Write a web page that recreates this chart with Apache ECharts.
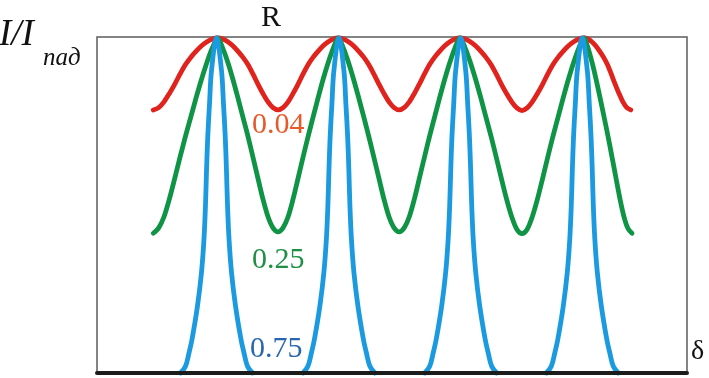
<!DOCTYPE html>
<html>
<head>
<meta charset="utf-8">
<script src="https://cdn.jsdelivr.net/npm/echarts@6/dist/echarts.min.js"></script>
<style>
  html, body { margin: 0; padding: 0; background: #fff; }
  #main { width: 709px; height: 378px; }
</style>
</head>
<body>
<div id="main"></div>
<script>
// delta in arbitrary units (0..590 across the frame), intensity I/I_pad (0..1)

// R = 0.25
const greenX = [
  56.3, 61.7, 67.0, 72.4, 77.8, 83.1, 88.5, 93.9, 99.2, 104.6, 110.0, 115.3, 120.7,
  125.7, 130.8, 135.8, 140.8, 145.8, 150.9, 155.9, 160.9, 165.9, 171.0, 176.0, 181.0,
  186.0, 191.1, 196.1, 201.1, 206.1, 211.2, 216.2, 221.2, 226.2, 231.3, 236.3, 241.3,
  246.4, 251.4, 256.5, 261.6, 266.7, 271.7, 276.8, 281.9, 286.9, 292.0, 297.1, 302.2,
  307.2, 312.3, 317.4, 322.4, 327.5, 332.6, 337.7, 342.7, 347.8, 352.9, 357.9, 363.0,
  368.2, 373.3, 378.5, 383.7, 388.8, 394.0, 399.2, 404.3, 409.5, 414.7, 419.8, 425.0,
  430.2, 435.3, 440.5, 445.7, 450.8, 456.0, 461.2, 466.3, 471.5, 476.7, 481.8, 487.0,
  491.0, 495.0, 499.0, 503.0, 507.0, 511.0, 515.0, 519.0, 523.0, 527.0, 531.0, 535.0];
const greenY = [
  0.416, 0.432, 0.465, 0.518, 0.580, 0.643, 0.705, 0.763, 0.820, 0.875, 0.925, 0.967, 0.997,
  0.967, 0.925, 0.875, 0.820, 0.763, 0.705, 0.643, 0.580, 0.518, 0.465, 0.432, 0.420,
  0.432, 0.465, 0.518, 0.580, 0.643, 0.705, 0.763, 0.820, 0.875, 0.925, 0.967, 0.997,
  0.967, 0.925, 0.875, 0.820, 0.763, 0.705, 0.643, 0.580, 0.518, 0.465, 0.432, 0.420,
  0.432, 0.465, 0.518, 0.580, 0.643, 0.705, 0.763, 0.820, 0.875, 0.925, 0.967, 0.997,
  0.967, 0.925, 0.875, 0.820, 0.763, 0.705, 0.643, 0.580, 0.518, 0.465, 0.428, 0.415,
  0.428, 0.465, 0.518, 0.580, 0.643, 0.705, 0.763, 0.820, 0.875, 0.925, 0.967, 0.997,
  0.967, 0.925, 0.875, 0.820, 0.763, 0.705, 0.643, 0.580, 0.518, 0.465, 0.430, 0.416];

// R = 0.04
const redX = [
  56.3, 61.7, 67.0, 72.4, 77.8, 83.1, 88.5, 93.9, 99.2, 104.6, 110.0, 115.3, 120.7,
  125.7, 130.8, 135.8, 140.8, 145.8, 150.9, 155.9, 160.9, 165.9, 171.0, 176.0, 181.0,
  186.0, 191.1, 196.1, 201.1, 206.1, 211.2, 216.2, 221.2, 226.2, 231.3, 236.3, 241.3,
  246.4, 251.4, 256.5, 261.6, 266.7, 271.7, 276.8, 281.9, 286.9, 292.0, 297.1, 302.2,
  307.2, 312.3, 317.4, 322.4, 327.5, 332.6, 337.7, 342.7, 347.8, 352.9, 357.9, 363.0,
  368.2, 373.3, 378.5, 383.7, 388.8, 394.0, 399.2, 404.3, 409.5, 414.7, 419.8, 425.0,
  430.2, 435.3, 440.5, 445.7, 450.8, 456.0, 461.2, 466.3, 471.5, 476.7, 481.8, 487.0,
  490.9, 494.8, 498.7, 502.6, 506.5, 510.4, 514.2, 518.1, 522.0, 525.9, 529.8, 533.7];
const redY = [
  0.783, 0.790, 0.807, 0.832, 0.860, 0.890, 0.918, 0.940, 0.958, 0.974, 0.986, 0.994, 0.997,
  0.994, 0.986, 0.974, 0.958, 0.940, 0.918, 0.890, 0.860, 0.832, 0.807, 0.790, 0.783,
  0.790, 0.807, 0.832, 0.860, 0.890, 0.918, 0.940, 0.958, 0.974, 0.986, 0.994, 0.997,
  0.994, 0.986, 0.974, 0.958, 0.940, 0.918, 0.890, 0.860, 0.832, 0.807, 0.790, 0.783,
  0.790, 0.807, 0.832, 0.860, 0.890, 0.918, 0.940, 0.958, 0.974, 0.986, 0.994, 0.997,
  0.994, 0.986, 0.974, 0.958, 0.940, 0.918, 0.890, 0.860, 0.832, 0.807, 0.789, 0.781,
  0.789, 0.807, 0.832, 0.860, 0.890, 0.918, 0.940, 0.958, 0.974, 0.986, 0.994, 0.997,
  0.994, 0.986, 0.974, 0.958, 0.940, 0.918, 0.890, 0.860, 0.832, 0.807, 0.790, 0.783];

// R = 0.75, one array of delta positions per transmission peak
const blueX1 = [83.5, 88.5, 92.0, 95.0, 100.5, 104.5, 107.0, 108.5, 109.5, 110.7, 112.5, 114.5, 119.5,
  124.5, 126.5, 128.3, 129.5, 130.5, 132.0, 134.5, 138.5, 144.0, 147.0, 150.5, 155.5];
const blueX2 = [205.9, 210.9, 214.4, 217.4, 222.9, 226.9, 229.4, 230.9, 231.9, 233.1, 234.9, 236.9, 241.9,
  246.9, 248.9, 250.7, 251.9, 252.9, 254.4, 256.9, 260.9, 266.4, 269.4, 272.9, 277.9];
const blueX3 = [327.7, 332.7, 336.2, 339.2, 344.7, 348.7, 351.2, 352.7, 353.7, 354.9, 356.7, 358.7, 363.7,
  368.7, 370.7, 372.5, 373.7, 374.7, 376.2, 378.7, 382.7, 388.2, 391.2, 394.7, 399.7];
const blueX4 = [449.3, 454.3, 457.8, 460.8, 466.3, 470.3, 472.8, 474.3, 475.3, 476.5, 478.3, 480.3, 485.3,
  490.3, 492.3, 494.1, 495.3, 496.3, 497.8, 500.3, 504.3, 509.8, 512.8, 516.3, 521.3];
const blueY = [0, 0.02, 0.06, 0.10, 0.20, 0.30, 0.40, 0.50, 0.60, 0.70, 0.80, 0.90, 0.997,
  0.90, 0.80, 0.70, 0.60, 0.50, 0.40, 0.30, 0.20, 0.10, 0.06, 0.02, 0];

const curveLabels = ['0.04', '0.25', '0.75'];

const SERIF = '"Liberation Serif", "DejaVu Serif", serif';
const RED = '#e0231d';
const GREEN = '#0f9446';
const BLUE = '#1b9ae0';

function pairs(xs, ys) {
  return xs.map((x, i) => [x, ys[i]]);
}

const chart = echarts.init(document.getElementById('main'));

const lineSeries = (data, color, smooth) => ({
  type: 'line',
  data: data,
  symbol: 'none',
  smooth: smooth,
  clip: false,
  lineStyle: { color: color, width: 4.8, cap: 'round', join: 'round' }
});

const series = [
  lineSeries(pairs(redX, redY), RED, 0.3),
  lineSeries(pairs(greenX, greenY), GREEN, 0.3)
];
[blueX1, blueX2, blueX3, blueX4].forEach((xs) => {
  series.push(lineSeries(pairs(xs, blueY), BLUE, 0.35));
});

chart.setOption({
  animation: false,
  backgroundColor: '#fff',
  grid: {
    left: 97, right: 22, top: 37, bottom: 5,
    show: true,
    borderColor: '#5c5c5c',
    borderWidth: 1.5
  },
  xAxis: {
    type: 'value',
    min: 0,
    max: 590,
    z: 10,
    axisLine: { show: true, onZero: false, lineStyle: { color: '#1c1c1c', width: 4 } },
    axisTick: { show: false },
    axisLabel: { show: false },
    splitLine: { show: false }
  },
  yAxis: {
    type: 'value',
    min: 0,
    max: 1,
    axisLine: { show: false },
    axisTick: { show: false },
    axisLabel: { show: false },
    splitLine: { show: false }
  },
  series: series,
  graphic: [
    { type: 'text', left: 261, top: 3,
      style: { text: 'R', font: '30px ' + SERIF, fill: '#111' } },
    { type: 'text', left: -1, top: 17,
      style: { text: 'I/I', font: 'italic 37px ' + SERIF, fill: '#111' } },
    { type: 'text', left: 43, top: 46,
      style: { text: 'пад', font: 'italic 25px ' + SERIF, fill: '#111' } },
    { type: 'text', left: 252, top: 110,
      style: { text: curveLabels[0], font: '30px ' + SERIF, fill: '#e65a2c' } },
    { type: 'text', left: 252, top: 245,
      style: { text: curveLabels[1], font: '30px ' + SERIF, fill: '#1e8f45' } },
    { type: 'text', left: 250, top: 334,
      style: { text: curveLabels[2], font: '30px ' + SERIF, fill: '#2a66b0' } },
    { type: 'text', left: 691, top: 338,
      style: { text: 'δ', font: '28px ' + SERIF, fill: '#111' } }
  ]
});
</script>
</body>
</html>
